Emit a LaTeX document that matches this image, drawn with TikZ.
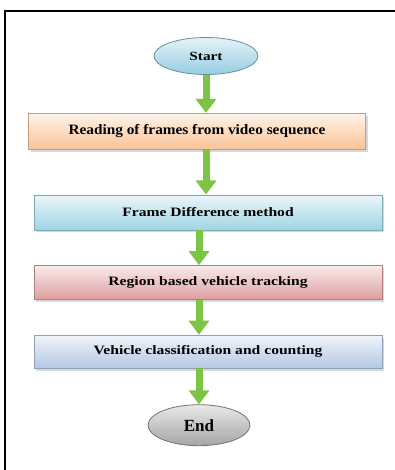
\documentclass[tikz,border=0pt]{standalone}
\usepackage{fontspec}
\setmainfont{Liberation Serif}
\newfontfamily\stepfont[FakeStretch=1.22]{Liberation Serif}
\newfontfamily\readfont[FakeStretch=1.07]{Liberation Serif}
\usepackage{tikz}
\usetikzlibrary{shapes.geometric, arrows.meta, positioning, shadows}
\definecolor{arrowgreen}{HTML}{7CC443}
\definecolor{startblue}{RGB}{150,205,225}
\definecolor{readpeach}{RGB}{250,195,150}
\definecolor{diffblue}{RGB}{160,212,228}
\definecolor{trackpink}{RGB}{222,158,158}
\definecolor{countblue}{RGB}{180,200,228}
\definecolor{endgrey}{RGB}{165,165,165}
\tikzstyle{terminal} = [ellipse, draw=#1!70!black, line width=0.8pt, top color=#1!25!white, bottom color=#1, text=black, font=\stepfont\bfseries\fontsize{12.5}{14}\selectfont]
\tikzstyle{stepbox} = [rectangle, minimum width=348pt, minimum height=34pt, draw=#1!80!black, line width=0.6pt, top color=#1!20!white, bottom color=#1, drop shadow={shadow xshift=2pt, shadow yshift=-2.5pt, fill=black!30}, font=\stepfont\bfseries\fontsize{12.8}{14}\selectfont]
\tikzstyle{arrow} = [line width=7pt, arrowgreen, -{Triangle[width=20pt,length=14pt]}]

\begin{document}
\begin{tikzpicture}[x=1pt, y=1pt, node distance=35pt]
        \useasboundingbox (0,0) rectangle (395,-470);
        % frame
        \draw[line width=2pt] (4.5,-470) -- (4.5,-11) -- (395,-11);

        % start and steps
        \node (start) [terminal=startblue, minimum width=104pt, minimum height=37pt] at (206,-56) {Start};
        \node (reading) [stepbox=readpeach, below=38pt of start, xshift=-9pt, minimum width=337pt, minimum height=36pt, font=\readfont\bfseries\fontsize{14.3}{16}\selectfont] {Reading of frames from video sequence};
        \node (framediff) [stepbox=diffblue, below=45pt of reading, xshift=11pt, minimum height=35pt] {Frame Difference method};
        \node (tracking) [stepbox=trackpink, below=of framediff] {Region based vehicle tracking};
        \node (counting) [stepbox=countblue, below=of tracking, minimum height=33pt] {Vehicle classification and counting};
        \node (stop) [terminal=endgrey, below=36pt of counting, xshift=-9pt, minimum width=102pt, minimum height=41pt, font=\bfseries\fontsize{17}{19}\selectfont] {End};

        % arrows
        \draw [arrow] (start) -- (start |- reading.north);
        \draw [arrow] (start |- reading.south) -- (start |- framediff.north);
        \draw [arrow] (stop |- framediff.south) -- (stop |- tracking.north);
        \draw [arrow] (stop |- tracking.south) -- (stop |- counting.north);
        \draw [arrow] (stop |- counting.south) -- (stop);
\end{tikzpicture}
\end{document}
